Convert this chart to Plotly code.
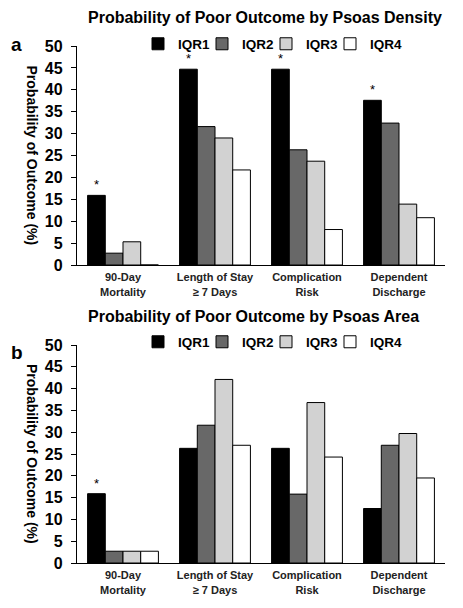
import plotly.graph_objects as go

categories = ["90-Day<br>Mortality", "Length of Stay<br>≥ 7 Days", "Complication<br>Risk", "Dependent<br>Discharge"]
series_names = ["IQR1", "IQR2", "IQR3", "IQR4"]

density_iqr1 = [15.9, 44.7, 44.7, 37.6]
density_iqr2 = [2.7, 31.6, 26.3, 32.4]
density_iqr3 = [5.3, 29.0, 23.7, 13.9]
density_iqr4 = [0.0, 21.7, 8.1, 10.8]
density_sig = ["*", "*", "*", "*"]

area_iqr1 = [15.9, 26.3, 26.3, 12.5]
area_iqr2 = [2.7, 31.6, 15.8, 27.0]
area_iqr3 = [2.7, 42.1, 36.8, 29.7]
area_iqr4 = [2.7, 27.0, 24.3, 19.5]
area_sig = ["*", "", "", ""]

y_ticks = [0, 5, 10, 15, 20, 25, 30, 35, 40, 45, 50]

colors = ["#000000", "#686868", "#d2d2d2", "#ffffff"]
FONT = "Liberation Sans"

# page body has an 8px margin; figure sized to fit the window
W, H, OFF = 455, 600, 8
def fx(px):
    return (px - OFF) / W
def fy(py):
    return 1 - (py - OFF) / H

fig = go.Figure()

panels = [
    ("x", "y", "legend", [density_iqr1, density_iqr2, density_iqr3, density_iqr4], density_sig),
    ("x2", "y2", "legend2", [area_iqr1, area_iqr2, area_iqr3, area_iqr4], area_sig),
]
for xa, ya, lg, vals, sig in panels:
    for i, (name, v) in enumerate(zip(series_names, vals)):
        kw = {}
        if i == 0:
            kw = dict(text=sig, textposition="outside", constraintext="none",
                      textfont=dict(size=13, color="#000", family=FONT), cliponaxis=False)
        fig.add_trace(go.Bar(
            x=categories, y=v, name=name, xaxis=xa, yaxis=ya, legend=lg,
            marker=dict(color=colors[i], line=dict(color="#000", width=1)),
            **kw))
    # blank legend spacer entry (not a bar) so the last legend label is not clipped
    fig.add_trace(go.Scatter(x=[None], y=[None], name=" ", xaxis=xa, yaxis=ya, legend=lg,
                             mode="markers", marker=dict(color="rgba(0,0,0,0)", size=1),
                             hoverinfo="skip"))

x_dom = [fx(77), fx(445)]
axis_common = dict(showline=True, linecolor="#000", linewidth=1.3, mirror=False, automargin=False)
yaxis_common = dict(range=[0, 50], tickvals=y_ticks, ticks="outside", ticklen=5,
                    tickcolor="#000", showgrid=False, zeroline=False, ticklabelstandoff=5,
                    tickfont=dict(size=16, family=FONT, color="#000", weight="bold"),
                    **axis_common)
xaxis_common = dict(showgrid=False, ticks="", ticklabelstandoff=2,
                    tickfont=dict(size=11, family=FONT, color="#222", weight="bold"),
                    **axis_common)

legend_common = dict(orientation="h", xanchor="left", yanchor="middle",
                     font=dict(size=13.5, family=FONT, color="#000", weight="bold"),
                     itemwidth=30, entrywidth=19, bgcolor="rgba(0,0,0,0)", tracegroupgap=0)

fig.update_layout(
    template="none",
    width=W, height=H,
    margin=dict(l=0, r=0, t=0, b=0, autoexpand=False),
    paper_bgcolor="#fff", plot_bgcolor="#fff",
    barmode="group", bargap=0.23, bargroupgap=0,
    font=dict(family=FONT, color="#000"),
    xaxis=dict(domain=x_dom, anchor="y", **xaxis_common),
    yaxis=dict(domain=[fy(265), fy(46)], anchor="x", **yaxis_common),
    xaxis2=dict(domain=x_dom, anchor="y2", **xaxis_common),
    yaxis2=dict(domain=[fy(563), fy(345)], anchor="x2", **yaxis_common),
    legend=dict(x=fx(138), y=fy(44), **legend_common),
    legend2=dict(x=fx(138), y=fy(342), **legend_common),
    showlegend=True,
)

ann = []
for ytxt, title in [(17, "Probability of Poor Outcome by Psoas Density"), (316, "Probability of Poor Outcome by Psoas Area")]:
    ann.append(dict(text=title, x=fx(86), y=fy(ytxt), xref="paper", yref="paper",
                    xanchor="left", yanchor="middle", showarrow=False,
                    font=dict(size=16, family=FONT, color="#000", weight="bold")))
for ytxt, lab in [(45, "a"), (352, "b")]:
    ann.append(dict(text=lab, x=fx(9), y=fy(ytxt), xref="paper", yref="paper",
                    xanchor="left", yanchor="middle", showarrow=False,
                    font=dict(size=19, family=FONT, color="#000", weight="bold")))
for ymid in [(46 + 265) / 2, (345 + 563) / 2]:
    ann.append(dict(text="Probability of Outcome (%)", x=fx(32), y=fy(ymid),
                    xref="paper", yref="paper", textangle=90, showarrow=False,
                    xanchor="center", yanchor="middle",
                    font=dict(size=14, family=FONT, color="#000", weight="bold")))
fig.update_layout(annotations=ann)

fig.write_html("out.html")
